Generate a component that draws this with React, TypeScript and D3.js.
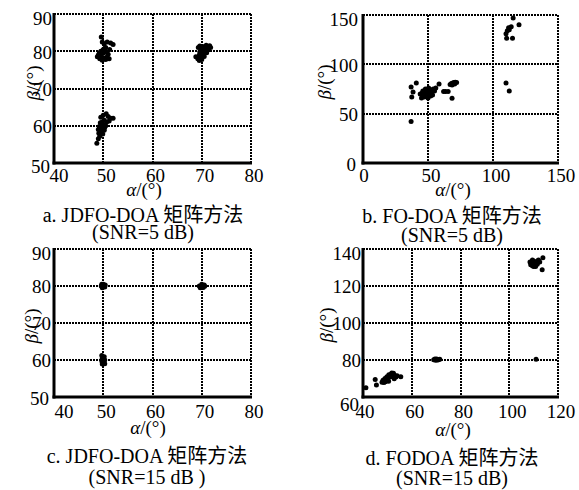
import React from "react";
import * as d3 from "d3";

const FONT = "'Liberation Serif', 'Times New Roman', 'Noto Sans CJK SC', serif";
const FS = 19;
const CAP_FS = 20;

// a. JDFO-DOA, SNR=5 dB  [alpha, beta]
const pointsA: [number, number][] = [
  [49.6, 83.8], [49.8, 82.5], [50.2, 82], [50.8, 82.5], [51.5, 82.2], [52, 81.8],
  [50.5, 81], [50, 80.5], [49.5, 80], [49.2, 79.5], [50, 79.5], [50.6, 79.8],
  [51, 79.2], [49.6, 78.8], [48.8, 78.5], [49.3, 78], [50.2, 78.2], [50.8, 78.5],
  [51.2, 78], [49.8, 77.6], [50.5, 77.8], [49, 79], [50.3, 80.8], [51.3, 80.5],
  [68.8, 78.5], [69.2, 78], [69.5, 77.5], [69.8, 78.2], [70, 78.8], [69.5, 79],
  [70.3, 79.5], [70.6, 80], [70.2, 80.3], [70.8, 80.8], [71.2, 81.2], [71.6, 81.5],
  [71.8, 81], [71.4, 80.4], [70.5, 81.3], [69.6, 81.4], [69.3, 81], [69.9, 80.6],
  [69.6, 79.8], [70, 77.8], [70.5, 78.6], [71, 79.6], [70.9, 81.6],
  [48.7, 55.3], [49, 56.5], [49.3, 57.2], [49.1, 58], [49.5, 58.5], [49.9, 57.8],
  [50.2, 58.8], [49.6, 59.5], [49.2, 59.8], [50, 60.2], [50.5, 60], [50.7, 61],
  [50.2, 61.5], [49.8, 61], [49.5, 62.3], [50, 62.8], [50.6, 63.2], [51, 62.5],
  [51.5, 62], [52, 62], [51.2, 61.3], [49.4, 60.8], [50.3, 59.5], [49, 59],
];

// b. FO-DOA, SNR=5 dB
const pointsB: [number, number][] = [
  [37, 42], [37, 77], [41, 81], [38.5, 72], [37.5, 67],
  [45, 66], [44, 70], [46, 68], [47, 71], [48, 69], [49, 72], [50, 70], [51, 73],
  [52, 74], [53, 72], [54, 75], [55, 73], [56, 76], [48, 75], [46, 73], [50, 66],
  [52, 68], [50.5, 76], [53.5, 69], [47, 67], [49, 68], [51, 70], [45.5, 71],
  [58.5, 80], [62, 72.5], [63.5, 72.5], [65.5, 72.5], [68.5, 65.5],
  [67, 79.5], [68, 80.5], [69, 81], [70, 81.5], [71, 81.8], [72, 81.5], [70.5, 80], [68.5, 79],
  [110, 81], [112.5, 73],
  [115.5, 147], [120, 140], [111, 134], [112, 137], [114, 138], [110, 131],
  [110.5, 126.5], [115, 126.5], [112.5, 135],
];

// c. JDFO-DOA, SNR=15 dB
const pointsC: [number, number][] = [
  [49.6, 80], [50, 80.5], [50.3, 79.7], [49.8, 79.5], [50.4, 80.3], [49.7, 80.5], [50, 79.9],
  [69.5, 80], [70, 80.5], [70.5, 80.3], [70.3, 79.6], [69.7, 79.5], [70.6, 79.9], [70, 80],
  [49.7, 61.2], [50.2, 60.9], [49.8, 60.4], [50.3, 60], [49.7, 59.7], [50.1, 59.3], [50.3, 59], [49.8, 58.9],
];

// d. FODOA, SNR=15 dB
const pointsD: [number, number][] = [
  [108.5, 133], [109, 132], [109.5, 131], [110, 130.5], [110.5, 131.5], [111, 132.5],
  [111.5, 133.5], [112, 134], [110, 133.5], [109.5, 134], [110.8, 130.5], [111.5, 131.8],
  [108.8, 131.5], [112.5, 133], [110.3, 132.3], [113.8, 135.3], [113.5, 128.8],
  [69, 80.2], [69.5, 80.5], [70, 80.3], [70.5, 80], [71, 80.2], [71.5, 80.4], [70.2, 80.6], [69.8, 79.9],
  [111, 80.4],
  [41.2, 65], [45, 69.5], [45.5, 66.5], [47.8, 68], [48.2, 69], [48.6, 67.8], [49, 70],
  [49.5, 69], [49.8, 71], [50.2, 70], [50.6, 72], [51, 70.8], [51.5, 72.3], [52, 71],
  [52.5, 72.8], [53, 71.8], [53.5, 70.8], [54, 71.5], [55.5, 71], [50.5, 68.5],
  [52.8, 69.8], [49.2, 68.3], [51.8, 73],
];

const xTicksA = [40, 50, 60, 70, 80];
const yTicksA = [50, 60, 70, 80, 90];
const xTicksB = [0, 50, 100, 150];
const yTicksB = [0, 50, 100, 150];
const xTicksD = [40, 60, 80, 100, 120];
const yTicksD = [60, 80, 100, 120, 140];

const captionsA = ["a. JDFO-DOA 矩阵方法", "(SNR=5 dB)"];
const captionsB = ["b. FO-DOA 矩阵方法", "(SNR=5 dB)"];
const captionsC = ["c. JDFO-DOA 矩阵方法", "(SNR=15 dB )"];
const captionsD = ["d. FODOA 矩阵方法", "(SNR=15 dB)"];

type PanelProps = {
  box: [number, number, number, number]; // left, top, right, bottom
  xTicks: number[];
  yTicks: number[];
  points: [number, number][];
  captions: string[];
  xLabelBase: number;
  firstXShift: number;
  yLabelRight: number;
  bottomYShift: number;
  betaPos: [number, number];
  titleX: number;
  titleBase: number;
  capX: number;
  capBase: [number, number];
};

const Panel = (p: PanelProps) => {
  const [l, t, r, b] = p.box;
  const x = d3.scaleLinear().domain(d3.extent(p.xTicks) as [number, number]).range([l, r]);
  const y = d3.scaleLinear().domain(d3.extent(p.yTicks) as [number, number]).range([b, t]);
  const dot = { stroke: "#000", strokeWidth: 2, strokeDasharray: "2 1", fill: "none" };
  const n = p.xTicks.length;
  const m = p.yTicks.length;
  const px = (v: number) => Math.round(x(v));
  const py = (v: number) => Math.round(y(v));
  return (
    <g style={{ fontFamily: FONT }} fontSize={FS} fill="#000">
      {/* grid */}
      {p.xTicks.slice(1, n - 1).map((v) => (
        <line key={"gx" + v} x1={px(v)} x2={px(v)} y1={t} y2={b} style={dot} />
      ))}
      {p.yTicks.slice(1, m - 1).map((v) => (
        <line key={"gy" + v} x1={l} x2={r} y1={py(v)} y2={py(v)} style={dot} />
      ))}
      {/* points */}
      {p.points.map((d, i) => (
        <circle key={i} cx={x(d[0])} cy={y(d[1])} r={2.5} fill="#000" />
      ))}
      {/* box: dotted top/right, solid left/bottom */}
      <line x1={l} x2={r} y1={t} y2={t} style={dot} />
      <line x1={r} x2={r} y1={t} y2={b} style={dot} />
      <line x1={l} x2={l} y1={t - 1} y2={b + 1.5} stroke="#000" strokeWidth={3} />
      <line x1={l - 1.5} x2={r + 1} y1={b} y2={b} stroke="#000" strokeWidth={3} />
      {/* tick labels */}
      {p.xTicks.map((v, i) => (
        <text key={"tx" + v} x={x(v) + 3 + (i === 0 ? p.firstXShift : 0)} y={p.xLabelBase} textAnchor="middle">
          {v}
        </text>
      ))}
      {p.yTicks.map((v, i) => {
        let cy = y(v) + 1;
        if (i === m - 1) cy = Math.max(cy, t + 5);
        if (i === 0) cy = y(v) + p.bottomYShift;
        return (
          <text key={"ty" + v} x={p.yLabelRight - (i === 0 ? 2 : 0)} y={cy + 6.3} textAnchor="end">
            {v}
          </text>
        );
      })}
      {/* axis titles */}
      <text x={p.titleX} y={p.titleBase} textAnchor="middle">
        <tspan fontStyle="italic">α</tspan>/(°)
      </text>
      <text
        transform={`translate(${p.betaPos[0]},${p.betaPos[1]}) rotate(-90)`}
        textAnchor="middle"
        dominantBaseline="central"
      >
        <tspan fontStyle="italic">β</tspan>/(°)
      </text>
      {/* caption */}
      {p.captions.map((c, i) => (
        <text key={"c" + i} x={p.capX} y={p.capBase[i]} textAnchor="middle" fontSize={CAP_FS}>
          {c}
        </text>
      ))}
    </g>
  );
};

export default function App() {
  return (
    <svg
      width={579}
      height={490}
      style={{ position: "absolute", left: 0, top: 0, background: "#fff" }}
    >
      <rect width={579} height={490} fill="#fff" />
      <Panel
        box={[54, 14, 251, 163]} xTicks={xTicksA} yTicks={yTicksA} points={pointsA}
        captions={captionsA} xLabelBase={182} firstXShift={2} yLabelRight={52}
        bottomYShift={4} betaPos={[33, 83]} titleX={144} titleBase={196}
        capX={143} capBase={[222, 239]}
      />
      <Panel
        box={[363, 15, 558, 163]} xTicks={xTicksB} yTicks={yTicksB} points={pointsB}
        captions={captionsB} xLabelBase={182} firstXShift={-2} yLabelRight={358}
        bottomYShift={2} betaPos={[324, 82]} titleX={453} titleBase={196}
        capX={452} capBase={[223, 242]}
      />
      <Panel
        box={[54, 249, 251, 397]} xTicks={xTicksA} yTicks={yTicksA} points={pointsC}
        captions={captionsC} xLabelBase={418} firstXShift={7} yLabelRight={51}
        bottomYShift={2} betaPos={[31, 326]} titleX={148} titleBase={434}
        capX={147} capBase={[463, 484]}
      />
      <Panel
        box={[363, 249, 558, 397]} xTicks={xTicksD} yTicks={yTicksD} points={pointsD}
        captions={captionsD} xLabelBase={418} firstXShift={-1} yLabelRight={361}
        bottomYShift={8} betaPos={[326, 325]} titleX={453} titleBase={436}
        capX={452} capBase={[465, 485]}
      />
    </svg>
  );
}
